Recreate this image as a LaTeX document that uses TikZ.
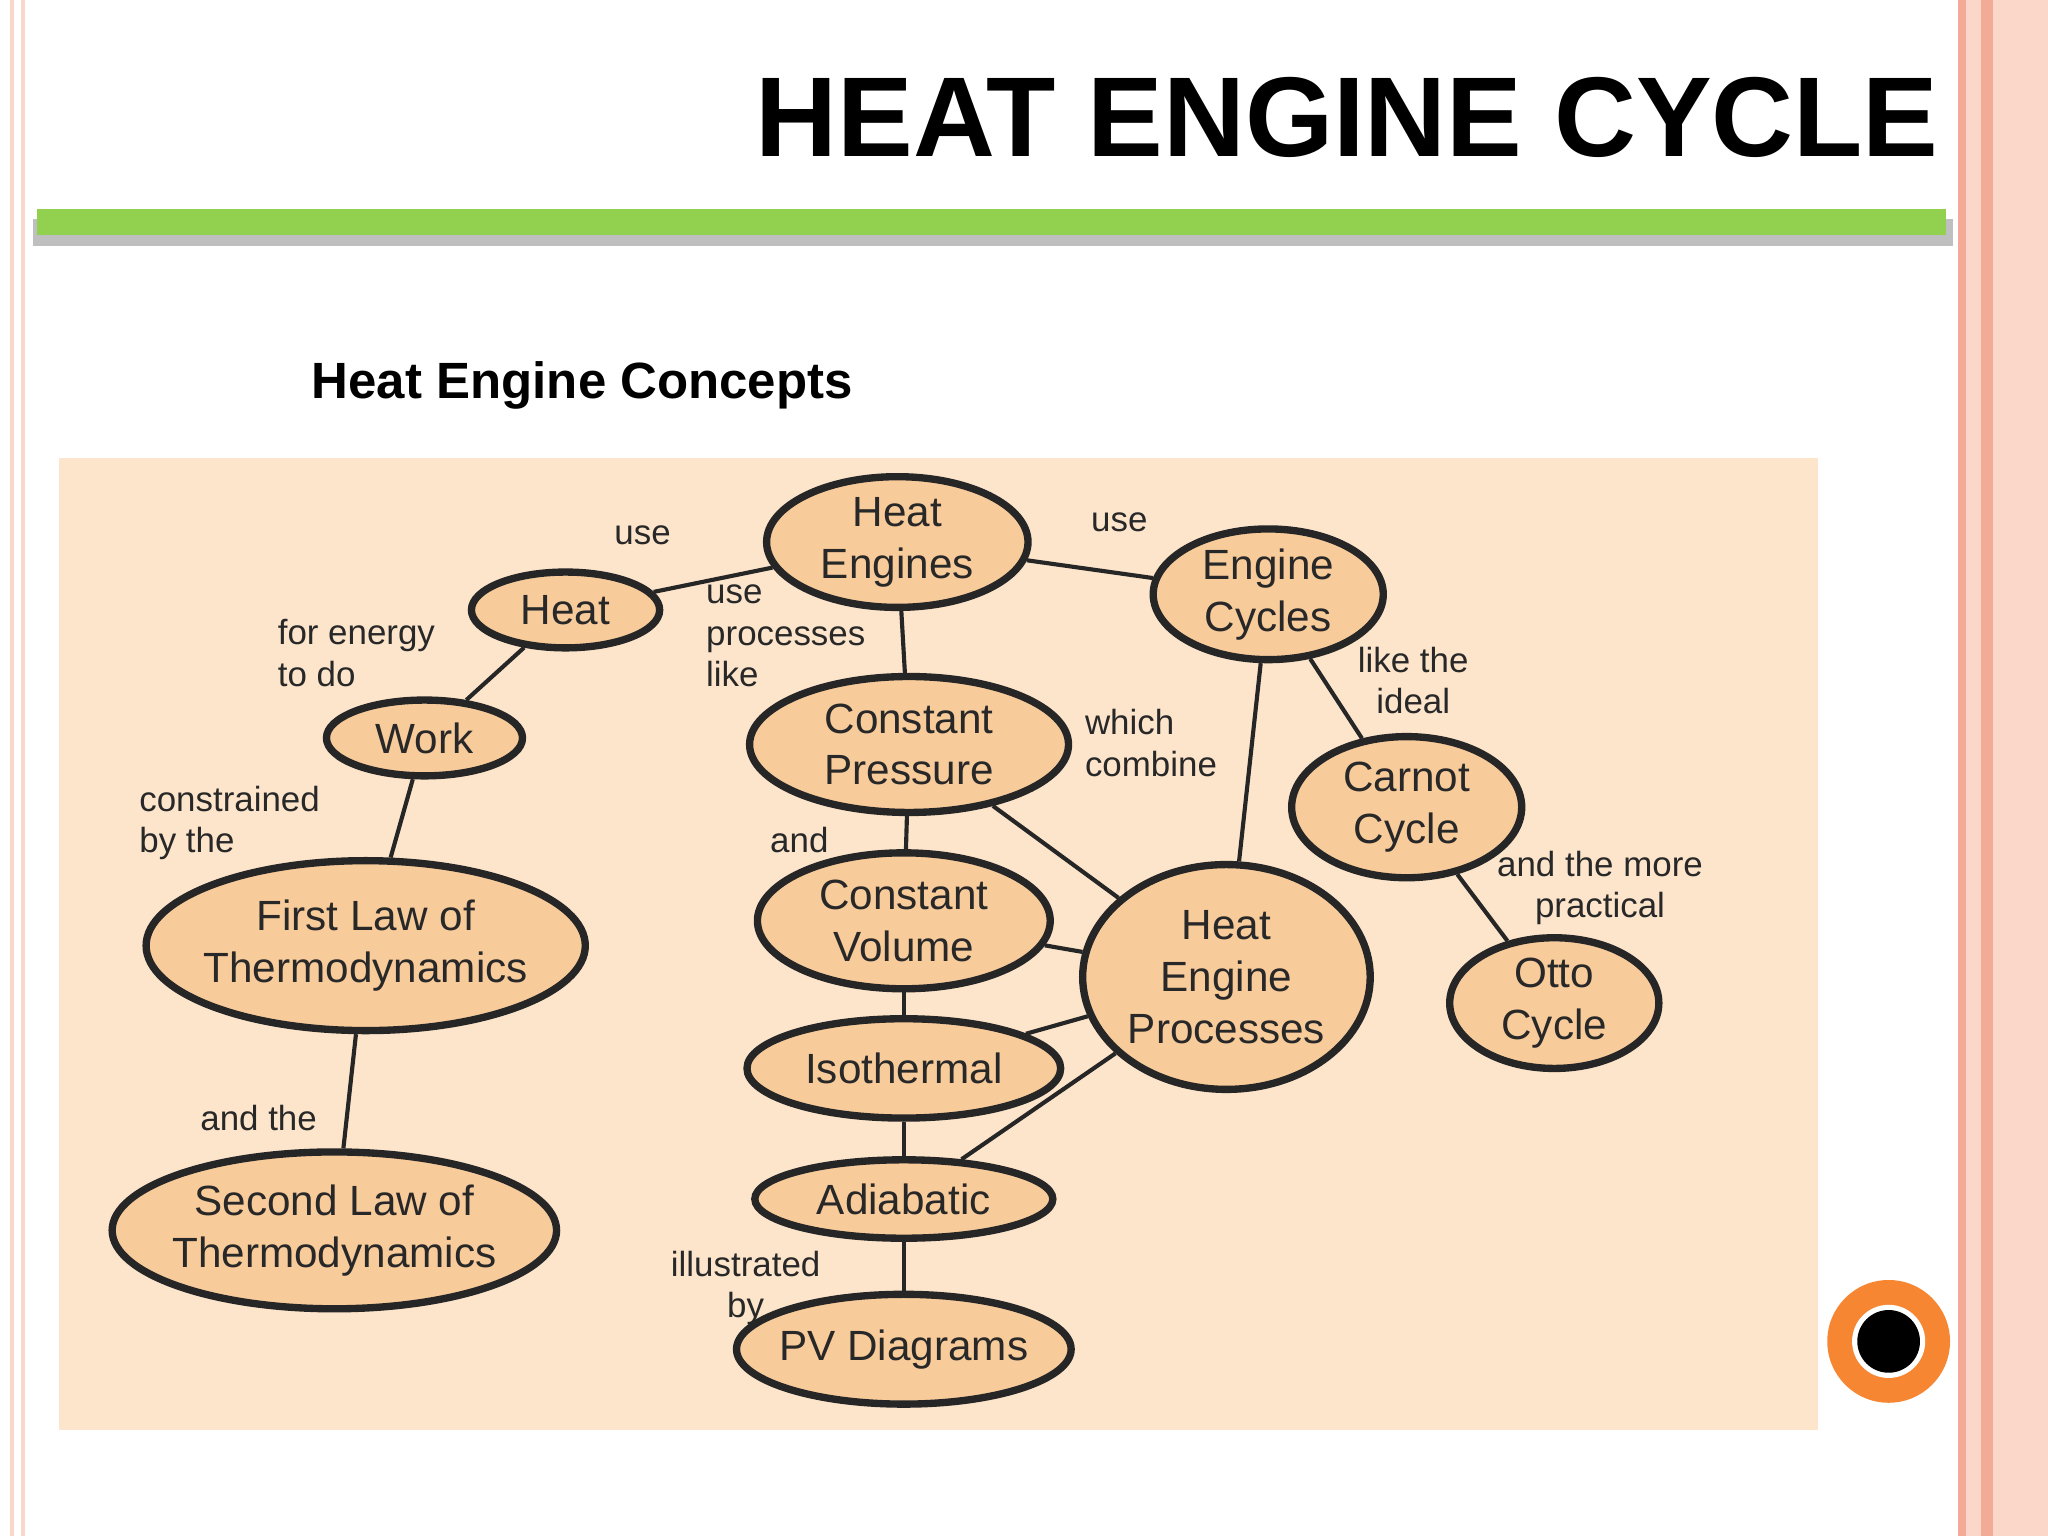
\documentclass[tikz,border=0pt]{standalone}
\usepackage{fontspec}
\setmainfont{Liberation Sans}
\usetikzlibrary{shapes.geometric}
\definecolor{peach}{RGB}{253,229,204}
\definecolor{nodefill}{RGB}{248,203,155}
\definecolor{salmon}{RGB}{243,170,150}
\definecolor{pinkl}{RGB}{250,215,200}
\definecolor{grn}{RGB}{146,208,80}
\definecolor{orng}{RGB}{247,134,50}
\definecolor{txt}{RGB}{40,40,40}
\tikzset{
 ell/.style n args={3}{ellipse,draw=black!85,line width=1.6pt,fill=nodefill,minimum width=#1*0.02cm,minimum height=#2*0.02cm,inner sep=0pt,
   label={[align=center,font=\fontsize{9.2}{11.3}\selectfont,text=txt,inner sep=0pt]center:{#3}}},
 lab/.style={font=\fontsize{7.6}{9}\selectfont,text=txt,inner sep=0pt},
 con/.style={draw=black!85,line width=0.9pt}
}
\begin{document}
\begin{tikzpicture}[x=0.01cm,y=-0.01cm]
\useasboundingbox (0,0) rectangle (1568,1176);
\fill[white] (0,0) rectangle (1568,1176);
% borders
\fill[pinkl] (8,0) rectangle (19,1176);
\fill[white] (11,0) rectangle (16,1176);
\fill[salmon] (1499,0) rectangle (1505,1176);
\fill[pinkl] (1505,0) rectangle (1568,1176);
\fill[salmon] (1517,0) rectangle (1526,1176);
% title
\node[anchor=east,font=\bfseries\fontsize{24.7}{29}\selectfont,inner sep=0pt] (title) at (1485,90) {HEAT ENGINE CYCLE};
\fill[black!25] (25,168) rectangle (1495,188);
\fill[grn] (28,160) rectangle (1490,180);
\node[anchor=west,font=\bfseries\fontsize{11.1}{13}\selectfont,inner sep=0pt] (sub) at (238,295) {Heat Engine Concepts};
\fill[peach] (45,351) rectangle (1392,1095);
% nodes
\node[ell={100}{50}{Heat\\Engines}] (he) at (687,415) {};
\node[ell={72}{29}{Heat}] (heat) at (433,467) {};
\node[ell={88}{50}{Engine\\Cycles}] (ec) at (971,455) {};
\node[ell={75}{29}{Work}] (work) at (325,565) {};
\node[ell={122}{52}{Constant\\Pressure}] (cp) at (696,570) {};
\node[ell={88}{54}{Carnot\\Cycle}] (carnot) at (1077,618) {};
\node[ell={168}{65}{First Law of\\Thermodynamics}] (fl) at (280,724) {};
\node[ell={112}{52}{Constant\\Volume}] (cv) at (692,705) {};
\node[ell={110}{86}{Heat\\Engine\\Processes}] (hep) at (939,748) {};
\node[ell={80}{50}{Otto\\Cycle}] (otto) at (1190,768) {};
\node[ell={120}{38}{Isothermal}] (iso) at (692,818) {};
\node[ell={114}{30}{Adiabatic}] (adi) at (692,918) {};
\node[ell={170}{60}{Second Law of\\Thermodynamics}] (sl) at (256,942) {};
\node[ell={128}{42}{PV Diagrams}] (pv) at (692,1033) {};
% connectors
\draw[con] (heat) -- (he);
\draw[con] (he) -- (ec);
\draw[con] (he) -- (cp);
\draw[con] (heat) -- (work);
\draw[con] (work) -- (fl);
\draw[con] (fl) -- (sl);
\draw[con] (cp) -- (cv);
\draw[con] (cv) -- (iso);
\draw[con] (iso) -- (adi);
\draw[con] (adi) -- (pv);
\draw[con] (cp) -- (hep);
\draw[con] (cv) -- (hep);
\draw[con] (iso) -- (hep);
\draw[con] (adi) -- (hep);
\draw[con] (ec) -- (hep);
\draw[con] (ec) -- (carnot);
\draw[con] (carnot) -- (otto);
% labels
\node[lab] (l1) at (492,410) {use};
\node[lab] (l2) at (857,400) {use};
\node[lab,anchor=west,align=left] (l3) at (540,487) {use\\processes\\like};
\node[lab,anchor=west,align=left] (l4) at (212,500) {for energy\\to do};
\node[lab,anchor=west,align=left] (l5) at (106,630) {constrained\\by the};
\node[lab,anchor=west,align=left] (l6) at (830,569) {which\\combine};
\node[lab,align=center] (l7) at (1082,521) {like the\\ideal};
\node[lab] (l8) at (612,643) {and};
\node[lab,align=center] (l9) at (1225,680) {and the more\\practical};
\node[lab] (l10) at (198,856) {and the};
\node[lab,anchor=west,align=center] (l11) at (513,986) {illustrated\\by};
% button
\fill[orng] (1446,1027) circle (47);
\fill[white] (1446,1027) circle (28);
\fill[black] (1446,1027) circle (24);
\end{tikzpicture}
\end{document}
